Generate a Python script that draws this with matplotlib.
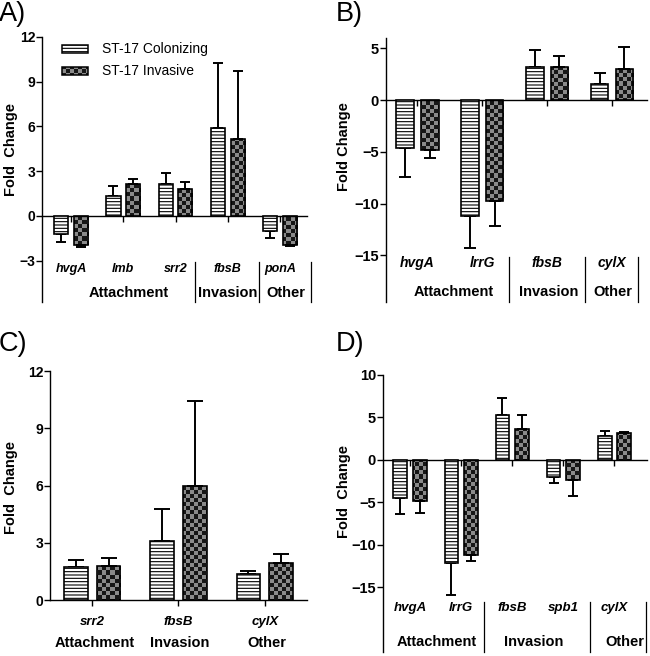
import numpy as np
import matplotlib
matplotlib.use("Agg")
import matplotlib.pyplot as plt
from matplotlib.colors import ListedColormap
from matplotlib.patches import Rectangle
from matplotlib.lines import Line2D

plt.rcParams['font.family'] = ['Liberation Sans', 'DejaVu Sans']
plt.rcParams['hatch.linewidth'] = 0.8

# ---------------- data ----------------
series_names = ['ST-17 Colonizing', 'ST-17 Invasive']

A_genes = ['hvgA', 'lmb', 'srr2', 'fbsB', 'ponA']
A_col = [-1.23, 1.34, 2.15, 5.87, -1.01]
A_col_err = [0.49, 0.67, 0.76, 4.38, 0.45]
A_inv = [-1.97, 2.15, 1.81, 5.15, -1.93]
A_inv_err = [0.08, 0.33, 0.50, 4.59, 0.10]
A_groups = ['Attachment', 'Invasion', 'Other']

B_genes = ['hvgA', 'lrrG', 'fbsB', 'cylX']
B_col = [-4.58, -11.16, 3.18, 1.60]
B_col_err = [2.83, 3.12, 1.64, 1.00]
B_inv = [-4.84, -9.77, 3.18, 3.02]
B_inv_err = [0.71, 2.35, 1.12, 2.12]
B_groups = ['Attachment', 'Invasion', 'Other']

C_genes = ['srr2', 'fbsB', 'cylX']
C_col = [1.71, 3.09, 1.34]
C_col_err = [0.39, 1.68, 0.18]
C_inv = [1.80, 5.99, 1.92]
C_inv_err = [0.42, 4.44, 0.47]
C_groups = ['Attachment', 'Invasion', 'Other']

D_genes = ['hvgA', 'lrrG', 'fbsB', 'spb1', 'cylX']
D_col = [-4.55, -12.10, 5.26, -1.96, 2.77]
D_col_err = [1.80, 3.80, 2.00, 0.74, 0.67]
D_inv = [-4.85, -11.20, 3.64, -2.35, 3.12]
D_inv_err = [1.40, 0.70, 1.68, 1.85, 0.17]
D_groups = ['Attachment', 'Invasion', 'Other']

# ---------------- figure ----------------
W, H = 650, 656
fig = plt.figure(figsize=(W / 100, H / 100), dpi=100)

def px_axes(l, r, t, b):
    return fig.add_axes([l / W, 1 - b / H, (r - l) / W, (b - t) / H])

checker_cmap = ListedColormap(['#161616', '#8a8a8a'])

def add_checker(ax, patch, cell=4.0):
    bb = ax.get_position()
    wpx = bb.width * W
    hpx = bb.height * H
    nx = int(wpx / cell) + 1
    ny = int(hpx / cell) + 1
    arr = (np.add.outer(np.arange(ny), np.arange(nx)) % 2).astype(float)
    im = ax.imshow(arr, extent=(0, nx * cell / wpx, 1 - ny * cell / hpx, 1),
                   transform=ax.transAxes, cmap=checker_cmap,
                   interpolation='nearest', aspect='auto', zorder=2,
                   origin='upper', vmin=0, vmax=1)
    im.set_clip_path(patch)
    return im

def panel(rect, genes, col, col_err, inv, inv_err, xlim, ylim, yticks,
          tick_fs, gene_fs, group_fs, capsize, gene_y, group_y,
          groups, group_x, dividers, div_top, ylabel, ylabel_px, letter, letter_xy):
    ax = px_axes(*rect)
    x = np.arange(len(genes))
    w = 0.27
    off = 0.19
    ax.bar(x - off, col, w, facecolor='white', edgecolor='black',
           linewidth=1.2, hatch='-----', zorder=3)
    bi = ax.bar(x + off, inv, w, facecolor='none', edgecolor='black',
                linewidth=1.2, zorder=3)
    for p in bi.patches:
        add_checker(ax, p)
    col_a = np.array(col); inv_a = np.array(inv)
    ce = np.array(col_err); ie = np.array(inv_err)
    ax.errorbar(x - off, col_a, yerr=[np.where(col_a < 0, ce, 0), np.where(col_a >= 0, ce, 0)],
                fmt='none', ecolor='black', elinewidth=1.4, capsize=capsize,
                capthick=1.4, zorder=2.5)
    ax.errorbar(x + off, inv_a, yerr=[np.where(inv_a < 0, ie, 0), np.where(inv_a >= 0, ie, 0)],
                fmt='none', ecolor='black', elinewidth=1.4, capsize=capsize,
                capthick=1.4, zorder=2.5)
    ax.set_xlim(*xlim)
    ax.set_ylim(*ylim)
    ax.set_yticks(yticks)
    ax.set_xticks(x)
    ax.tick_params(axis='x', direction='out', length=4, width=1, labelbottom=False)
    ax.tick_params(axis='y', direction='out', length=4, width=1, labelsize=tick_fs, pad=1)
    for lab in ax.get_yticklabels():
        lab.set_fontweight('bold')
    for s in ['top', 'right']:
        ax.spines[s].set_visible(False)
    ax.spines['bottom'].set_position(('data', 0))
    ax.spines['left'].set_linewidth(1.0)
    ax.spines['bottom'].set_linewidth(1.0)
    ax.set_facecolor('none')
    bt = ax.get_xaxis_transform()
    for xi, g in zip(x, genes):
        ax.text(xi, gene_y, g, transform=bt, ha='center', va='center',
                fontsize=gene_fs, fontweight='bold', fontstyle='italic', clip_on=False)
    for gx, g in zip(group_x, groups):
        ax.text(gx, group_y, g, transform=bt, ha='center', va='center',
                fontsize=group_fs, fontweight='bold', clip_on=False)
    for dx in dividers:
        ax.add_line(Line2D([dx, dx], [0, div_top], transform=bt, color='black',
                           linewidth=0.9, clip_on=False))
    fig.text(ylabel_px[0] / W, 1 - ylabel_px[1] / H, ylabel, rotation=90,
             ha='center', va='center', fontsize=10.5, fontweight='bold')
    fig.text(letter_xy[0] / W, 1 - letter_xy[1] / H, letter, fontsize=19.5,
             ha='left', va='top')
    return ax

axA = panel((42, 307, 37, 302), A_genes, A_col, A_col_err, A_inv, A_inv_err,
            (-0.56, 4.52), (-5.77, 12), [-3, 0, 3, 6, 9, 12],
            10, 9, 10.5, 3.5, 0.125, 0.034,
            A_groups, [1.1, 3.0, 4.12], [2.37, 3.6, 4.6], 0.151,
            'Fold  Change', (11, 150), 'A)', (-1, 1))

axB = panel((386, 647, 38, 302), B_genes, B_col, B_col_err, B_inv, B_inv_err,
            (-0.485, 3.54), (-19.5, 6.0), [-15, -10, -5, 0, 5],
            10.5, 10, 10.5, 4.3, 0.148, 0.039,
            B_groups, [0.56, 2.02, 3.02], [1.41, 2.58, 3.4], 0.17,
            'Fold Change', (344, 147), 'B)', (336, 1))

axC = panel((50, 307, 371, 600), C_genes, C_col, C_col_err, C_inv, C_inv_err,
            (-0.49, 2.49), (0, 12), [0, 3, 6, 9, 12],
            10, 9.5, 10.5, 5.5, -0.095, -0.188,
            C_groups, [0.03, 1.01, 2.02], [], 0,
            'Fold  Change', (11, 488), 'C)', (-1, 331))

axD = panel((383, 647, 375, 651.7), D_genes, D_col, D_col_err, D_inv, D_inv_err,
            (-0.53, 4.64), (-22.6, 10), [-15, -10, -5, 0, 5, 10],
            10.5, 9.5, 10.5, 3.7, 0.158, 0.036,
            D_groups, [0.52, 2.43, 4.21], [1.45, 3.52, 4.63], 0.18,
            'Fold  Change', (344, 492), 'D)', (336, 331))

# legend (panel A)
r1 = Rectangle((0.0755, 0.94), 0.098, 0.03, transform=axA.transAxes,
               facecolor='white', edgecolor='black', linewidth=1.1,
               hatch='-----', clip_on=False, zorder=3)
axA.add_patch(r1)
r2 = Rectangle((0.0755, 0.857), 0.098, 0.03, transform=axA.transAxes,
               facecolor='none', edgecolor='black', linewidth=1.1,
               clip_on=False, zorder=3)
axA.add_patch(r2)
add_checker(axA, r2)
axA.text(0.226, 0.955, series_names[0], transform=axA.transAxes, fontsize=10,
         va='center', ha='left')
axA.text(0.226, 0.872, series_names[1], transform=axA.transAxes, fontsize=10,
         va='center', ha='left')

# re-apply limits (imshow may alter them)
for ax, xl, yl in [(axA, (-0.56, 4.52), (-5.77, 12)), (axB, (-0.485, 3.54), (-19.5, 6.0)),
                   (axC, (-0.49, 2.49), (0, 12)), (axD, (-0.53, 4.64), (-22.6, 10))]:
    ax.set_xlim(*xl)
    ax.set_ylim(*yl)

fig.savefig('out.png', dpi=100)
